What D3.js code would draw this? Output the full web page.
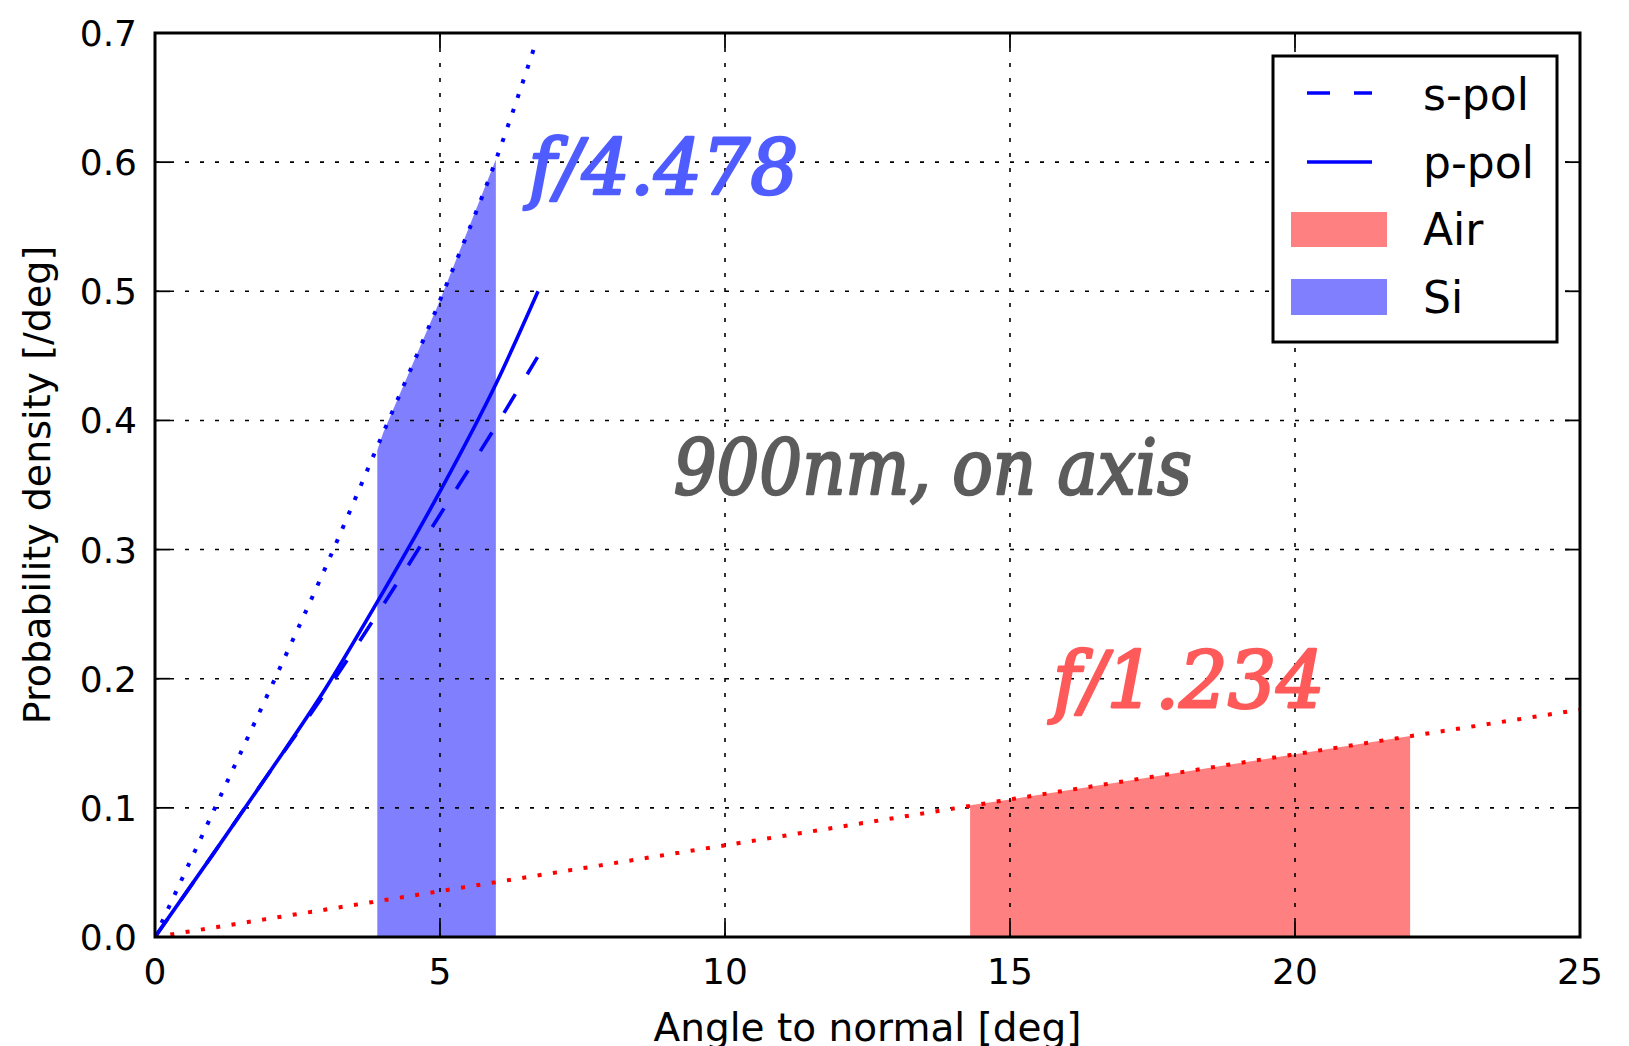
<!DOCTYPE html>
<html>
<head>
<meta charset="utf-8">
<script src="https://cdn.jsdelivr.net/npm/d3@7"></script>
<style>
  body { margin: 0; background: #fff; }
  svg { display: block; }
</style>
</head>
<body>
<svg width="1629" height="1046"></svg>
<script>
const svg = d3.select("svg");
const width = 1629;
const height = 1046;
const margin = { left: 155, top: 33, right: 49, bottom: 109 };

// data (angle in deg, density in 1/deg)
const angleS = [0, 1, 2, 3, 4, 5, 6, 6.71];
const sPol = [0, 0.063, 0.127, 0.19, 0.257, 0.327, 0.397, 0.449];
const angleP = [0, 1, 2, 3, 4, 5, 6, 6.72];
const pPol = [0, 0.063, 0.127, 0.193, 0.267, 0.345, 0.43, 0.5];
const angleSi = [0, 1, 2, 3, 4, 5, 6, 6.7];
const siLimit = [0, 0.095, 0.19, 0.287, 0.39, 0.493, 0.604, 0.695];
const angleAir = [0, 5, 10, 15, 20, 25];
const airLimit = [0, 0.0355, 0.071, 0.1065, 0.1415, 0.176];
const siFillX = [3.9, 4, 5, 5.98];
const siFillY = [0.377, 0.39, 0.493, 0.602];
const airFillX = [14.3, 15, 20, 22.02];
const airFillY = [0.102, 0.1065, 0.1415, 0.1557];
const xTicks = [0, 5, 10, 15, 20, 25];
const yTicks = [0, 0.1, 0.2, 0.3, 0.4, 0.5, 0.6, 0.7];
const legendLabels = ["s-pol", "p-pol", "Air", "Si"];
const notes = [
  { text: "f/4.478", x: 6.55, y: 0.575, w: 270, size: 76, color: "#4f5cff" },
  { text: "900nm, on axis", x: 9.1, y: 0.343, w: 518, size: 76, color: "#5c5c5c" },
  { text: "f/1.234", x: 15.75, y: 0.177, w: 272, size: 78, color: "#ff5a5a" }
];

const x = d3.scaleLinear().domain([0, 25]).range([margin.left, width - margin.right]);
const y = d3.scaleLinear().domain([0, 0.7]).range([height - margin.bottom, margin.top]);

const zip = (xs, ys) => xs.map((v, i) => [v, ys[i]]);

svg.append("clipPath").attr("id", "plot")
  .append("rect")
  .attr("x", x(0)).attr("y", y(0.7))
  .attr("width", x(25) - x(0)).attr("height", y(0) - y(0.7));

const plot = svg.append("g").attr("clip-path", "url(#plot)");

// filled bands
const area = d3.area().x(d => x(d[0])).y0(y(0)).y1(d => y(d[1]));
plot.append("path").attr("d", area(zip(siFillX, siFillY))).attr("fill", "#8080ff");
plot.append("path").attr("d", area(zip(airFillX, airFillY))).attr("fill", "#ff8080");

// grid
const gridStyle = g => g.attr("stroke", "#000").attr("stroke-width", 1.6).attr("stroke-dasharray", "4,11");
plot.append("g").selectAll("line").data(xTicks.slice(1, -1)).join("line")
  .attr("x1", d => x(d)).attr("x2", d => x(d))
  .attr("y1", y(0)).attr("y2", y(0.7))
  .call(gridStyle);
plot.append("g").selectAll("line").data(yTicks.slice(1, -1)).join("line")
  .attr("x1", x(0)).attr("x2", x(25))
  .attr("y1", d => y(d)).attr("y2", d => y(d))
  .call(gridStyle);

// curves
const line = d3.line().x(d => x(d[0])).y(d => y(d[1])).curve(d3.curveMonotoneX);
plot.append("path").attr("d", line(zip(angleAir, airLimit)))
  .attr("fill", "none").attr("stroke", "#ff0000").attr("stroke-width", 4).attr("stroke-dasharray", "4,11.5");
plot.append("path").attr("d", line(zip(angleSi, siLimit)))
  .attr("fill", "none").attr("stroke", "#0000ff").attr("stroke-width", 4).attr("stroke-dasharray", "4,11.5");
plot.append("path").attr("d", line(zip(angleS, sPol)))
  .attr("fill", "none").attr("stroke", "#0000ff").attr("stroke-width", 3.6).attr("stroke-dasharray", "22,23");
plot.append("path").attr("d", line(zip(angleP, pPol)))
  .attr("fill", "none").attr("stroke", "#0000ff").attr("stroke-width", 3.6);

// annotations
svg.append("g").selectAll("text").data(notes).join("text")
  .attr("x", d => x(d.x)).attr("y", d => y(d.y))
  .attr("textLength", d => d.w).attr("lengthAdjust", "spacingAndGlyphs")
  .attr("font-family", "DejaVu Serif").attr("font-style", "italic").attr("font-size", d => d.size)
  .attr("fill", d => d.color).attr("stroke", d => d.color).attr("stroke-width", 2.6)
  .attr("stroke-linejoin", "round")
  .text(d => d.text);

// ticks on all four sides, pointing inwards
const tickLen = 15;
const ticks = svg.append("g").attr("stroke", "#000").attr("stroke-width", 1.8);
xTicks.forEach(t => {
  ticks.append("line").attr("x1", x(t)).attr("x2", x(t)).attr("y1", y(0)).attr("y2", y(0) - tickLen);
  ticks.append("line").attr("x1", x(t)).attr("x2", x(t)).attr("y1", y(0.7)).attr("y2", y(0.7) + tickLen);
});
yTicks.forEach(t => {
  ticks.append("line").attr("x1", x(0)).attr("x2", x(0) + tickLen).attr("y1", y(t)).attr("y2", y(t));
  ticks.append("line").attr("x1", x(25)).attr("x2", x(25) - tickLen).attr("y1", y(t)).attr("y2", y(t));
});

// tick labels
svg.append("g").selectAll("text").data(xTicks).join("text")
  .attr("x", d => x(d)).attr("y", y(0) + 47)
  .attr("text-anchor", "middle")
  .attr("font-family", "DejaVu Sans").attr("font-size", 36)
  .text(d => d);
svg.append("g").selectAll("text").data(yTicks).join("text")
  .attr("x", x(0) - 18).attr("y", d => y(d) + 13)
  .attr("text-anchor", "end")
  .attr("font-family", "DejaVu Sans").attr("font-size", 36)
  .text(d => d.toFixed(1));

// axis labels
svg.append("text")
  .attr("x", (x(0) + x(25)) / 2).attr("y", 1041)
  .attr("text-anchor", "middle")
  .attr("font-family", "DejaVu Sans").attr("font-size", 39)
  .text("Angle to normal [deg]");
svg.append("text")
  .attr("transform", `translate(50, ${(y(0) + y(0.7)) / 2}) rotate(-90)`)
  .attr("text-anchor", "middle")
  .attr("font-family", "DejaVu Sans").attr("font-size", 38)
  .text("Probability density [/deg]");

// frame
svg.append("rect")
  .attr("x", x(0)).attr("y", y(0.7))
  .attr("width", x(25) - x(0)).attr("height", y(0) - y(0.7))
  .attr("fill", "none").attr("stroke", "#000").attr("stroke-width", 3);

// legend
const legend = svg.append("g").attr("transform", `translate(${x(25) - 23 - 284}, ${y(0.7) + 23})`);
legend.append("rect").attr("width", 284).attr("height", 286)
  .attr("fill", "#fff").attr("stroke", "#000").attr("stroke-width", 3);
legend.append("line").attr("x1", 34).attr("x2", 99).attr("y1", 37).attr("y2", 37)
  .attr("stroke", "#0000ff").attr("stroke-width", 3.6).attr("stroke-dasharray", "23,24");
legend.append("line").attr("x1", 34).attr("x2", 99).attr("y1", 106).attr("y2", 106)
  .attr("stroke", "#0000ff").attr("stroke-width", 3.6);
legend.append("rect").attr("x", 18).attr("y", 156).attr("width", 96).attr("height", 35).attr("fill", "#ff8080");
legend.append("rect").attr("x", 18).attr("y", 223).attr("width", 96).attr("height", 36).attr("fill", "#8080ff");
legend.selectAll("text.lab").data(legendLabels).join("text")
  .attr("class", "lab")
  .attr("x", 150).attr("y", (d, i) => 54 + i * 67.7)
  .attr("font-family", "DejaVu Sans").attr("font-size", 44)
  .text(d => d);
</script>
</body>
</html>
